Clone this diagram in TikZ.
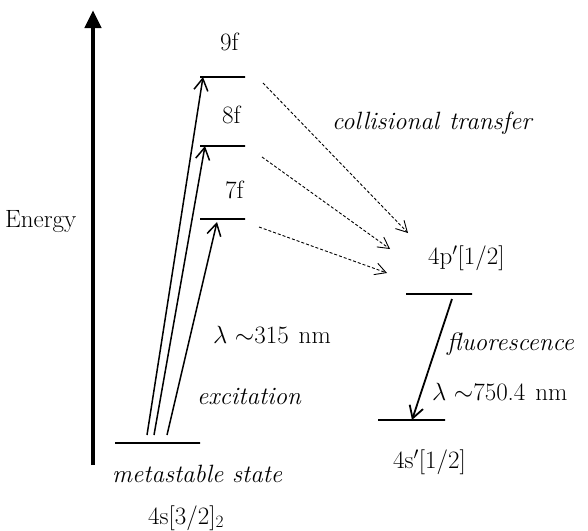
\documentclass[tikz,border=0pt]{standalone}
\usepackage{amsmath,amssymb}
\usepackage{tikz}
\usetikzlibrary{arrows.meta,positioning,calc}

\begin{document}
\begin{tikzpicture}[x=1pt,y=-1pt,font=\fontsize{25}{29}\selectfont,
level/.style={draw,line width=1.8pt,minimum height=0pt,inner sep=0pt,outer sep=0pt},
lbl/.style={inner sep=0pt,anchor=west},
it/.style={font=\fontsize{25}{29}\selectfont\itshape},
excite/.style={-{Straight Barb[length=12pt,width=14pt,line width=1.5pt]},line width=1.5pt},
transfer/.style={-{Straight Barb[length=11pt,width=12pt,line width=0.9pt]},line width=0.9pt,dash pattern=on 3pt off 2pt},
fluor/.style={-{Straight Barb[length=12pt,width=14pt,line width=1.8pt]},line width=1.8pt}]
\useasboundingbox (0,0) rectangle (588,530);
% energy axis
\coordinate (axlo) at (93,465);
\coordinate (axhi) at (93,10);
\draw[line width=4.5pt,-{Triangle[length=18pt,width=16pt]}] (axlo) -- (axhi);
\node[lbl] (energy) at (5,222) {Energy};
% levels
\node[level,minimum width=45pt] (n9f) at (222.5,77) {};
\node[level,minimum width=45pt] (n8f) at (222.5,146) {};
\node[level,minimum width=45pt] (n7f) at (222.5,219) {};
\node[level,minimum width=85pt] (ms) at (157.5,443) {};
\node[level,minimum width=66pt] (n4p) at (439,294) {};
\node[level,minimum width=67pt] (n4s) at (411.5,420) {};
\node[lbl] (t9f) at (220,42) {9f};
\node[lbl] (t8f) at (222,115) {8f};
\node[lbl] (t7f) at (225,190) {7f};
\node[lbl,it] (tms) at (112,474) {metastable state};
\node[lbl] (tms2) at (148,518) {4s[3/2]$_2$};
\node[lbl] (t4p) at (428,258) {4p$'$[1/2]};
\node[lbl] (t4s) at (393,462) {4s$'$[1/2]};
% process labels
\node[lbl] (lam1) at (213,335) {$\lambda$ $\sim$315\hspace{0.4em}nm};
\node[lbl,it] (exc) at (197,396) {excitation};
\node[lbl,it] (coll) at (332,123) {collisional\hspace{0.4em}transfer};
\node[lbl,it] (fl) at (447,344) {fluorescence};
\node[lbl] (lam2) at (432,392) {$\lambda$ $\sim$750.4\hspace{0.4em}nm};
% excitation arrows
\draw[excite] ([xshift=32pt,yshift=8pt]ms.west) -- ([xshift=3pt]n9f.west);
\draw[excite] ([xshift=39pt,yshift=8pt]ms.west) -- ([xshift=5pt]n8f.west);
\draw[excite] ([xshift=52pt,yshift=8pt]ms.west) -- ([xshift=17pt,yshift=-3pt]n7f.west);
% collisional transfer
\coordinate (in9) at (408,233);
\coordinate (in8) at (390,249);
\coordinate (in7) at (387,273);
\draw[transfer] ([xshift=18pt,yshift=-6pt]n9f.east) -- (in9);
\draw[transfer] ([xshift=17pt,yshift=-11pt]n8f.east) -- (in8);
\draw[transfer] ([xshift=14pt,yshift=-8pt]n7f.east) -- (in7);
% fluorescence
\draw[fluor] ([xshift=46pt,yshift=-5pt]n4p.west) -- ([xshift=34pt]n4s.west);
\end{tikzpicture}
\end{document}
